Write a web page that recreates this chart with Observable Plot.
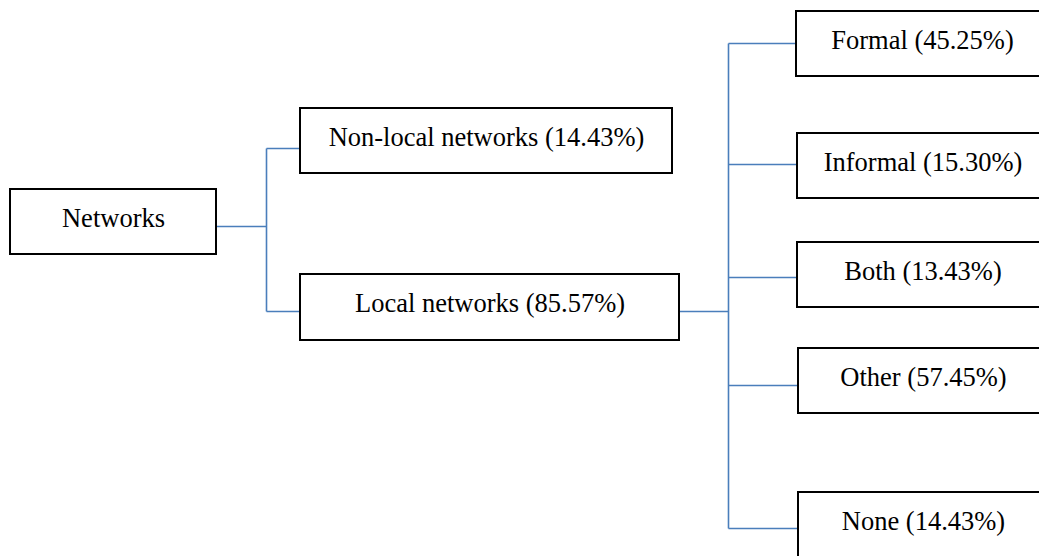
<!DOCTYPE html>
<html>
<head>
<meta charset="utf-8">
<script src="https://cdn.jsdelivr.net/npm/d3@7"></script>
<script src="https://cdn.jsdelivr.net/npm/@observablehq/plot@0.6"></script>
<style>
  html, body { margin: 0; padding: 0; background: #fff; overflow: hidden; }
</style>
</head>
<body>
<div id="chart"></div>
<script>
// ---- data ----
const nodeNames   = ["Networks", "Non-local networks", "Local networks", "Formal", "Informal", "Both", "Other", "None"];
const nodeShares  = [null, 14.43, 85.57, 45.25, 15.30, 13.43, 57.45, 14.43];
const nodeParents = [null, "Networks", "Networks", "Local networks", "Local networks", "Local networks", "Local networks", "Local networks"];

// ---- layout (pixel space of the diagram) ----
const boxLayout = {
  "Networks":           {x1: 10,  x2: 216,  y1: 189, y2: 254, port: 226},
  "Non-local networks": {x1: 300, x2: 672,  y1: 108, y2: 173, port: 148},
  "Local networks":     {x1: 300, x2: 679,  y1: 274, y2: 340, port: 311},
  "Formal":             {x1: 796, x2: 1048, y1: 11,  y2: 76,  port: 43},
  "Informal":           {x1: 797, x2: 1048, y1: 133, y2: 198, port: 164},
  "Both":               {x1: 797, x2: 1048, y1: 242, y2: 307, port: 277},
  "Other":              {x1: 798, x2: 1048, y1: 348, y2: 413, port: 385},
  "None":               {x1: 798, x2: 1048, y1: 492, y2: 560, port: 528}
};
const busX = {"Networks": 266, "Local networks": 728};

const nodes = nodeNames.map((name, i) => {
  const b = boxLayout[name];
  return {
    name, parent: nodeParents[i],
    label: nodeShares[i] == null ? name : `${name} (${nodeShares[i].toFixed(2)}%)`,
    ...b, cx: (b.x1 + b.x2) / 2, ty: b.y1 + 29
  };
});

// connector segments built from parent/child relations
const segs = [];
for (const p of nodes) {
  const kids = nodes.filter(n => n.parent === p.name);
  if (!kids.length) continue;
  const bx = busX[p.name];
  segs.push({x1: p.x2, y1: p.port, x2: bx, y2: p.port});
  const ys = kids.map(k => k.port);
  segs.push({x1: bx, y1: d3.min(ys), x2: bx, y2: d3.max(ys)});
  for (const k of kids) segs.push({x1: bx, y1: k.port, x2: k.x1, y2: k.port});
}

const W = 1039, H = 556;
const chart = Plot.plot({
  width: W, height: H,
  marginTop: 0, marginRight: 0, marginBottom: 0, marginLeft: 0,
  x: {domain: [0, W], range: [0, W], axis: null},
  y: {domain: [0, H], range: [0, H], axis: null},
  style: {background: "#fff", fontFamily: "'Liberation Serif', 'Times New Roman', serif"},
  marks: [
    Plot.link(segs, {x1: "x1", y1: "y1", x2: "x2", y2: "y2", stroke: "#4a7ebb", strokeWidth: 1.6}),
    Plot.rect(nodes, {x1: "x1", x2: "x2", y1: "y1", y2: "y2", fill: "#fff", stroke: "#000", strokeWidth: 2}),
    Plot.text(nodes, {x: "cx", y: "ty", text: "label", fontSize: 26.5, fill: "#000", textAnchor: "middle"})
  ]
});
document.getElementById("chart").appendChild(chart);
</script>
</body>
</html>
